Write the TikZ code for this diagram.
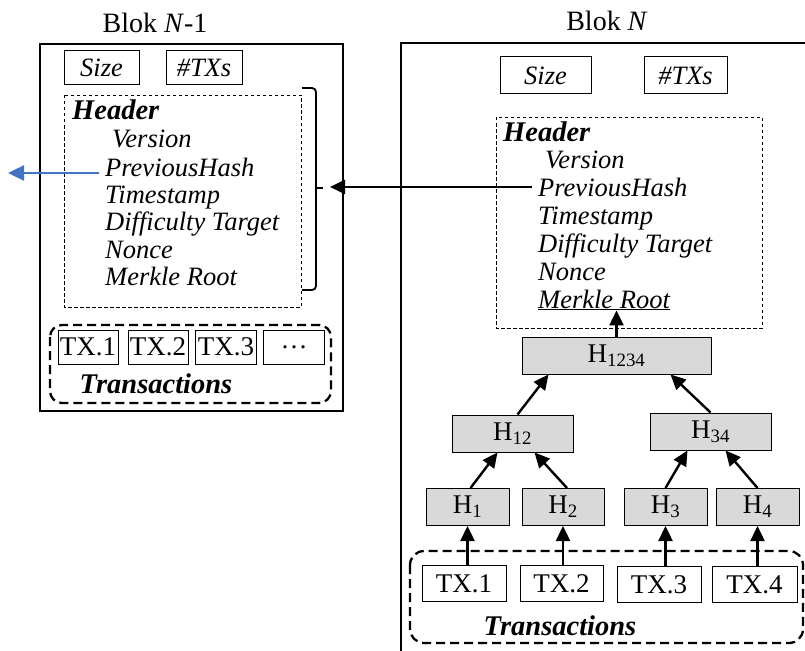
\documentclass[tikz,border=0pt]{standalone}
\usepackage{fontspec}
\setmainfont{Liberation Serif}
\usetikzlibrary{arrows.meta}
\definecolor{linkblue}{RGB}{68,114,196}

\begin{document}
\begin{tikzpicture}[x=1pt,y=-1pt,
blockframe/.style={line width=2.6pt},
field/.style={draw,line width=1pt,inner sep=0pt,font=\fontsize{26.5}{30}\selectfont\itshape},
hdr/.style={anchor=base west,inner sep=0pt,font=\fontsize{26.5}{30}\selectfont\itshape},
hdrtitle/.style={anchor=base west,inner sep=0pt,font=\fontsize{28.5}{32}\selectfont\bfseries\itshape},
hbox/.style={draw,fill=black!15,line width=1pt,inner sep=0pt,minimum height=37pt,font=\fontsize{27}{30}\selectfont},
txbox/.style={draw,line width=1pt,inner sep=0pt,minimum height=36pt,font=\fontsize{27}{30}\selectfont},
hdrbox/.style={line width=0.9pt,dash pattern=on 3.5pt off 2.5pt},
txgroup/.style={line width=2.3pt,dash pattern=on 9pt off 5pt,rounded corners=12pt},
link/.style={line width=2.4pt,-{Triangle[length=15pt,width=14pt]}}]
\useasboundingbox (0,0) rectangle (805,650);

\node[font=\fontsize{28}{32}\selectfont,anchor=base] (titleA) at (155,33) {Blok \textit{N}-1};
\draw[blockframe] (40,44) rectangle (343,411);
\node[field,minimum width=75pt,minimum height=34pt] (sizeA) at (101.5,68) {Size};
\node[field,minimum width=76pt,minimum height=34pt] (countA) at (204,68) {\#TXs};
\draw[hdrbox] (64,95) rectangle (301,307);
\node[hdrtitle] (headA) at (72,120) {Header};
\node[hdr] (verA) at (112,147) {Version};
\node[hdr] (prevA) at (105,176) {PreviousHash};
\node[hdr] (timeA) at (105,203) {Timestamp};
\node[hdr] (diffA) at (105,230) {Difficulty Target};
\node[hdr] (nonceA) at (105,258) {Nonce};
\node[hdr] (rootA) at (105,285) {Merkle Root};
\draw[line width=1.8pt,rounded corners=4pt] (302,88) -| (316,188);
\draw[line width=1.8pt,rounded corners=4pt] (302,290) -| (316,188);
\draw[line width=1.8pt] (315,188) -- (323,188);
\coordinate (braceA) at (330,188);
\coordinate (outA) at (8,173);
\draw[line width=2.4pt,linkblue,-{Triangle[length=16pt,width=15pt]}] ([xshift=-6pt,yshift=3pt]prevA.base west) -- (outA);
\draw[txgroup] (50,325) rectangle (331,403);
\node[txbox,minimum width=60pt,minimum height=34pt] (txA1) at (88,347) {TX.1};
\node[txbox,minimum width=60pt,minimum height=34pt] (txA2) at (158,347) {TX.2};
\node[txbox,minimum width=61pt,minimum height=34pt] (txA3) at (226,347) {TX.3};
\node[txbox,minimum width=61pt,minimum height=34pt] (txA4) at (294,347) {\dots};
\node[hdrtitle,anchor=base] (txlabelA) at (156,393) {Transactions};

\node[font=\fontsize{28}{32}\selectfont,anchor=base] (titleB) at (607,31) {Blok \textit{N}};
\draw[blockframe] (806,43) -| (401,651);
\node[field,minimum width=91pt,minimum height=37pt] (sizeB) at (545.5,75.5) {Size};
\node[field,minimum width=83pt,minimum height=37pt] (countB) at (685.5,75.5) {\#TXs};
\draw[hdrbox] (496,117) rectangle (762,328);
\node[hdrtitle] (headB) at (503,142) {Header};
\node[hdr] (verB) at (545,168) {Version};
\node[hdr] (prevB) at (538,196) {PreviousHash};
\node[hdr] (timeB) at (538,224) {Timestamp};
\node[hdr] (diffB) at (538,252) {Difficulty Target};
\node[hdr] (nonceB) at (538,280) {Nonce};
\node[hdr] (rootB) at (538,308) {\underline{Merkle Root}};
\draw[link] ([xshift=-6pt]prevB.west) -- (prevB.west -| braceA);

\node[hbox,minimum width=189pt] (h1234) at (616.5,355.5) {H\textsubscript{1234}};
\node[hbox,minimum width=121pt] (h12) at (512.5,433.5) {H\textsubscript{12}};
\node[hbox,minimum width=121pt] (h34) at (710.5,431.5) {H\textsubscript{34}};
\node[hbox,minimum width=83pt] (h1) at (467.5,507) {H\textsubscript{1}};
\node[hbox,minimum width=82pt] (h2) at (563,507) {H\textsubscript{2}};
\node[hbox,minimum width=83pt] (h3) at (665.5,507) {H\textsubscript{3}};
\node[hbox,minimum width=83pt] (h4) at (757.5,507) {H\textsubscript{4}};
\draw[link] (h1234.north) -- (h1234.north |- rootB.south);
\draw[link] ([xshift=5pt]h12.north) -- ([xshift=-68pt]h1234.south);
\draw[link] (h34.north) -- ([xshift=54pt]h1234.south);
\draw[link] ([xshift=3pt]h1.north) -- ([xshift=-15pt]h12.south);
\draw[link] ([xshift=4pt]h2.north) -- ([xshift=22pt]h12.south);
\draw[link] (h3.north) -- ([xshift=-23pt]h34.south);
\draw[link] (h4.north) -- ([xshift=15pt]h34.south);

\draw[txgroup,rounded corners=14pt] (410,551) rectangle (803,643);
\node[txbox,minimum width=84pt] (tx1) at (464,583.5) {TX.1};
\node[txbox,minimum width=83pt] (tx2) at (561.5,583.5) {TX.2};
\node[txbox,minimum width=84pt] (tx3) at (659,584.5) {TX.3};
\node[txbox,minimum width=85pt] (tx4) at (754.5,584.5) {TX.4};
\node[hdrtitle,anchor=base] (txlabelB) at (560,635) {Transactions};
\draw[link] (tx1.north -| h1) -- (h1.south);
\draw[link] (tx2.north -| h2) -- (h2.south);
\draw[link] (tx3.north -| h3) -- (h3.south);
\draw[link] (tx4.north -| h4) -- (h4.south);
\end{tikzpicture}
\end{document}
